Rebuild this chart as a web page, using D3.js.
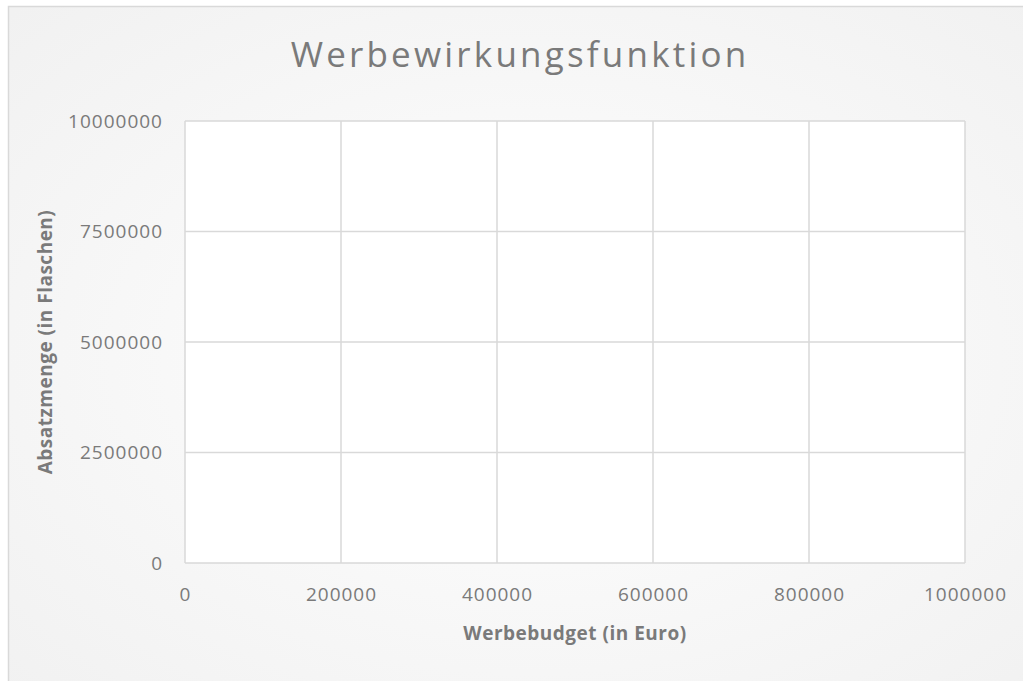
<!DOCTYPE html>
<html>
<head>
<meta charset="utf-8">
<script src="https://cdn.jsdelivr.net/npm/d3@7"></script>
<style>
  body { margin: 0; background: #fff; }
  text { font-family: "Open Sans", "Noto Sans", sans-serif; fill: #7a7a7a; }
</style>
</head>
<body>
<div id="chart-area"></div>
<script>
// chart texts and axis ticks
const title = "Werbewirkungsfunktion";
const xTitle = "Werbebudget (in Euro)";
const yTitle = "Absatzmenge (in Flaschen)";
const xTicks = [0, 200000, 400000, 600000, 800000, 1000000];
const yTicks = [0, 2500000, 5000000, 7500000, 10000000];
// no data series in the chart
const points = [];

let width = 1023, height = 681;
let margin = {top: 121, right: 58, bottom: 118, left: 185};

let svg = d3.select("#chart-area").append("svg")
  .attr("width", width)
  .attr("height", height);

// background gradient like the office chart
let defs = svg.append("defs");
let grad = defs.append("radialGradient")
  .attr("id", "bg")
  .attr("cx", "50%").attr("cy", "50%").attr("r", "75%");
grad.append("stop").attr("offset", "0%").attr("stop-color", "#ffffff");
grad.append("stop").attr("offset", "100%").attr("stop-color", "#f0f0f0");

svg.append("rect")
  .attr("x", 8.5).attr("y", 6.5)
  .attr("width", width + 20).attr("height", height + 20)
  .attr("fill", "url(#bg)")
  .attr("stroke", "#d9d9d9")
  .attr("stroke-width", 1.5);

let x = d3.scaleLinear()
  .domain([0, 1000000])
  .range([margin.left, width - margin.right]);
let y = d3.scaleLinear()
  .domain([0, 10000000])
  .range([height - margin.bottom, margin.top]);

// plot area
svg.append("rect")
  .attr("x", x(0)).attr("y", y(10000000))
  .attr("width", x(1000000) - x(0))
  .attr("height", y(0) - y(10000000))
  .attr("fill", "#ffffff");

// gridlines
svg.append("g").selectAll("line")
  .data(xTicks)
  .enter().append("line")
  .attr("x1", d => x(d)).attr("x2", d => x(d))
  .attr("y1", y(0)).attr("y2", y(10000000))
  .attr("stroke", "#d9d9d9").attr("stroke-width", 1.5);

svg.append("g").selectAll("line")
  .data(yTicks)
  .enter().append("line")
  .attr("x1", x(0)).attr("x2", x(1000000))
  .attr("y1", d => y(d)).attr("y2", d => y(d))
  .attr("stroke", "#d9d9d9").attr("stroke-width", 1.5);

// axes (labels only)
let xAxis = d3.axisBottom(x).tickValues(xTicks).tickSize(0).tickPadding(25)
  .tickFormat(d3.format("d"));
svg.append("g")
  .attr("transform", "translate(0," + y(0) + ")")
  .call(xAxis)
  .call(g => g.select(".domain").remove())
  .selectAll("text")
  .style("font-size", "19px")
  .style("letter-spacing", "1px")
  .attr("fill", "#7a7a7a");

let yAxis = d3.axisLeft(y).tickValues(yTicks).tickSize(0).tickPadding(22)
  .tickFormat(d3.format("d"));
svg.append("g")
  .attr("transform", "translate(" + x(0) + ",0)")
  .call(yAxis)
  .call(g => g.select(".domain").remove())
  .selectAll("text")
  .style("font-size", "19px")
  .style("letter-spacing", "1px")
  .attr("fill", "#7a7a7a");

svg.selectAll("circle.pt")
  .data(points)
  .enter().append("circle")
  .attr("class", "pt")
  .attr("cx", d => x(d[0]))
  .attr("cy", d => y(d[1]))
  .attr("r", 4);

// titles
svg.append("text")
  .attr("x", 520)
  .attr("y", 67)
  .attr("text-anchor", "middle")
  .style("font-size", "35px")
  .style("letter-spacing", "3.2px")
  .text(title);

svg.append("text")
  .attr("x", (x(0) + x(1000000)) / 2)
  .attr("y", 640)
  .attr("text-anchor", "middle")
  .style("font-size", "19px")
  .style("font-weight", "bold")
  .style("letter-spacing", "0.5px")
  .text(xTitle);

svg.append("text")
  .attr("transform", "translate(52," + ((y(0) + y(10000000)) / 2) + ") rotate(-90)")
  .attr("text-anchor", "middle")
  .style("font-size", "19px")
  .style("font-weight", "bold")
  .style("letter-spacing", "0.5px")
  .text(yTitle);
</script>
</body>
</html>
